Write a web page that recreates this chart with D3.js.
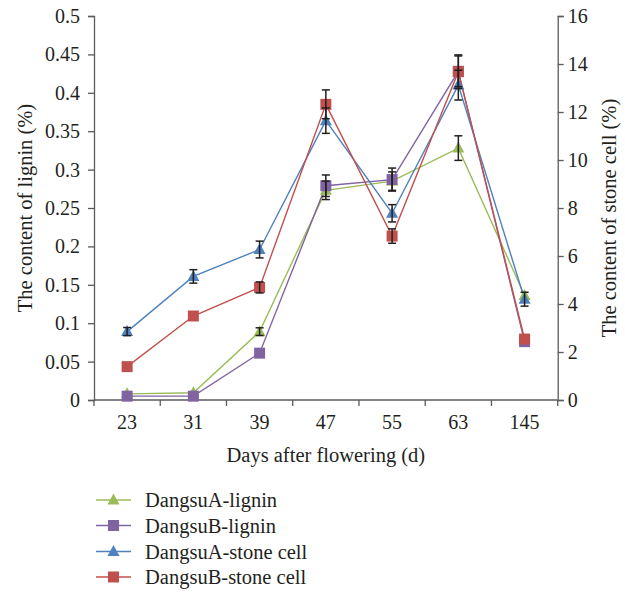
<!DOCTYPE html>
<html><head><meta charset="utf-8">
<script src="https://cdn.jsdelivr.net/npm/d3@7"></script>
<style>body{margin:0;background:#fff}svg{display:block}</style>
</head><body>
<script>
const days = ["23","31","39","47","55","63","145"];
const leftTicks = [0,0.05,0.1,0.15,0.2,0.25,0.3,0.35,0.4,0.45,0.5];
const rightTicks = [0,2,4,6,8,10,12,14,16];
// lignin (%) - left axis
const ligninA = [0.008,0.0095,0.089,0.273,0.285,0.328,0.136];
const ligninAErr = [0,0,0.005,0.012,0.012,0.016,0];
const ligninB = [0.005,0.005,0.061,0.279,0.287,0.428,0.076];
const ligninBErr = [0,0,0,0.014,0.015,0.02,0];
// stone cell (%) - right axis
const stoneA = [2.85,5.15,6.27,11.64,7.78,13.12,4.2];
const stoneAErr = [0.17,0.28,0.35,0.53,0.36,0.62,0.29];
const stoneB = [1.39,3.5,4.69,12.32,6.83,13.68,2.54];
const stoneBErr = [0,0,0.23,0.6,0.3,0.7,0];
const seriesNames = ["DangsuA-lignin","DangsuB-lignin","DangsuA-stone cell","DangsuB-stone cell"];

const W=625,H=592;
const m={l:94,r:625-557.7,t:16,b:592-400};
const svg=d3.select("body").append("svg").attr("width",W).attr("height",H);
const font="'Liberation Serif','DejaVu Serif',serif";
const txt="#231f20", axc="#5a5a5a";

const x=d3.scaleBand().domain(days).range([m.l,W-m.r]).padding(0);
const yL=d3.scaleLinear().domain([0,0.5]).range([H-m.b,m.t]);
const yR=d3.scaleLinear().domain([0,16]).range([H-m.b,m.t]);

const series=[
 {name:seriesNames[0],v:ligninA,e:ligninAErr,y:yL,c:"#9bbb59",sym:"tri"},
 {name:seriesNames[1],v:ligninB,e:ligninBErr,y:yL,c:"#8064a2",sym:"sq"},
 {name:seriesNames[2],v:stoneA,e:stoneAErr,y:yR,c:"#4f81bd",sym:"tri"},
 {name:seriesNames[3],v:stoneB,e:stoneBErr,y:yR,c:"#c0504d",sym:"sq"}
];
const cx=d=>x(d)+x.bandwidth()/2;

function marker(g,sym,c,px,py){
  if(sym==="sq"){
    g.append("rect").attr("x",px-5.5).attr("y",py-5.5).attr("width",11).attr("height",11).attr("fill",c);
  } else {
    g.append("path").attr("d",`M${px},${py-6.5}L${px+6},${py+4.5}L${px-6},${py+4.5}Z`).attr("fill",c);
  }
}

// axes
const gL=svg.append("g").attr("transform",`translate(${m.l},0)`)
  .call(d3.axisLeft(yL).tickValues(leftTicks).tickSize(6).tickPadding(8).tickFormat(d=>d===0?"0":String(+d.toFixed(2))));
const gR=svg.append("g").attr("transform",`translate(${W-m.r},0)`)
  .call(d3.axisRight(yR).tickValues(rightTicks).tickSize(6).tickPadding(4));
const gB=svg.append("g").attr("transform",`translate(0,${H-m.b})`)
  .call(d3.axisBottom(x).tickSize(0).tickPadding(15));
// band-edge ticks on x axis
const edges=days.map(d=>x(d)).concat([x.range()[1]]);
gB.selectAll(".edge").data(edges).enter().append("line").attr("class","edge")
  .attr("x1",d=>d).attr("x2",d=>d).attr("y1",0).attr("y2",6).attr("stroke",axc).attr("stroke-width",1.3);
[gL,gR,gB].forEach(g=>{
  g.select(".domain").attr("stroke",axc).attr("stroke-width",1.3);
  g.selectAll(".tick line").attr("stroke",axc).attr("stroke-width",1.3);
  g.selectAll("text").attr("font-family",font).attr("font-size",20).attr("fill",txt);
});
gB.select(".domain").attr("d",`M${m.l},0H${W-m.r}`);

// lines
series.forEach(s=>{
  const line=d3.line().x((d,i)=>cx(days[i])).y(d=>s.y(d));
  svg.append("path").datum(s.v).attr("d",line).attr("fill","none").attr("stroke",s.c).attr("stroke-width",1.4);
});
// markers & error bars
series.forEach(s=>{
  const g=svg.append("g");
  s.v.forEach((v,i)=>marker(g,s.sym,s.c,cx(days[i]),s.y(v)));
});
series.forEach(s=>{
  const g=svg.append("g").attr("stroke","#231f20").attr("stroke-width",1.5);
  s.v.forEach((v,i)=>{
    if(!s.e[i]) return;
    const px=cx(days[i]),y1=s.y(v+s.e[i]),y2=s.y(v-s.e[i]);
    g.append("line").attr("x1",px).attr("x2",px).attr("y1",y1).attr("y2",y2);
    g.append("line").attr("x1",px-4).attr("x2",px+4).attr("y1",y1).attr("y2",y1);
    g.append("line").attr("x1",px-4).attr("x2",px+4).attr("y1",y2).attr("y2",y2);
  });
});

// axis titles
svg.append("text").attr("x",(m.l+W-m.r)/2).attr("y",462).attr("text-anchor","middle")
  .attr("font-family",font).attr("font-size",20.5).attr("fill",txt).text("Days after flowering (d)");
svg.append("text").attr("transform",`translate(32,208) rotate(-90)`).attr("text-anchor","middle")
  .attr("font-family",font).attr("font-size",20.5).attr("fill",txt).text("The content of lignin (%)");
svg.append("text").attr("transform",`translate(616,218) rotate(-90)`).attr("text-anchor","middle")
  .attr("font-family",font).attr("font-size",20.5).attr("fill",txt).text("The content of stone cell (%)");

// legend
const legY=[500,525.5,551.5,577];
series.forEach((s,i)=>{
  const g=svg.append("g");
  g.append("line").attr("x1",96).attr("x2",131).attr("y1",legY[i]).attr("y2",legY[i]).attr("stroke",s.c).attr("stroke-width",1.4);
  marker(g,s.sym,s.c,113.5,legY[i]);
  g.append("text").attr("x",145).attr("y",legY[i]+7).attr("font-family",font).attr("font-size",20.5).attr("fill",txt).text(s.name);
});
</script>
</body></html>
